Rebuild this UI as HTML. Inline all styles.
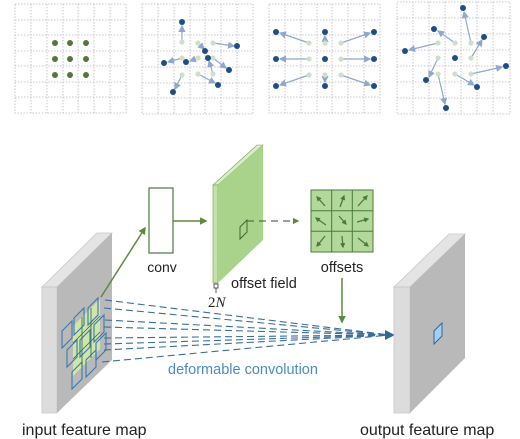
<!DOCTYPE html>
<html><head><meta charset="utf-8"><style>
html,body{margin:0;padding:0;background:#fff;}
svg{display:block;}
text{font-family:"Liberation Sans",sans-serif;}
</style></head><body>
<svg width="520" height="439" viewBox="0 0 520 439" xmlns="http://www.w3.org/2000/svg">
<defs>
<marker id="ab" markerWidth="6" markerHeight="6" refX="5" refY="3" orient="auto" markerUnits="strokeWidth"><path d="M0,0 L6,3 L0,6 z" fill="#8fa8cc"/></marker>
<marker id="ag" markerWidth="5" markerHeight="5" refX="4" refY="2.5" orient="auto" markerUnits="strokeWidth"><path d="M0,0 L5,2.5 L0,5 z" fill="#5a8a3c"/></marker>
<marker id="ao" markerWidth="4" markerHeight="4" refX="3" refY="2" orient="auto" markerUnits="strokeWidth"><path d="M0,0 L4,2 L0,4 z" fill="#4a7a3a"/></marker>
</defs>
<g fill="none" stroke="#b8b8c0" stroke-width="0.8" stroke-dasharray="1.5 1.5">
<rect x="15" y="4" width="111" height="109"/>
<path d="M31 4V113M47 4V113M63 4V113M78 4V113M94 4V113M110 4V113M15 20H126M15 35H126M15 51H126M15 66H126M15 82H126M15 97H126"/>
<rect x="142" y="4" width="111" height="110"/>
<path d="M158 4V114M174 4V114M190 4V114M205 4V114M221 4V114M237 4V114M142 20H253M142 35H253M142 51H253M142 67H253M142 83H253M142 98H253"/>
<rect x="269" y="4" width="111" height="109"/>
<path d="M285 4V113M301 4V113M317 4V113M332 4V113M348 4V113M364 4V113M269 20H380M269 35H380M269 51H380M269 66H380M269 82H380M269 97H380"/>
<rect x="397" y="2" width="113" height="112"/>
<path d="M413 2V114M429 2V114M445 2V114M461 2V114M477 2V114M493 2V114M397 18H510M397 34H510M397 50H510M397 66H510M397 82H510M397 98H510"/>
</g>
<g fill="#4f7a3a">
<circle cx="55" cy="43" r="3"/><circle cx="70" cy="43" r="3"/><circle cx="86" cy="43" r="3"/>
<circle cx="55" cy="59" r="3"/><circle cx="70" cy="59" r="3"/><circle cx="86" cy="59" r="3"/>
<circle cx="55" cy="75" r="3"/><circle cx="70" cy="75" r="3"/><circle cx="86" cy="75" r="3"/>
</g>
<g stroke="#8fa8cc" stroke-width="1.2" marker-end="url(#ab)">
<line x1="182" y1="42" x2="182" y2="26"/><line x1="198" y1="43" x2="204" y2="49"/><line x1="213" y1="43" x2="234" y2="46"/>
<line x1="182" y1="58" x2="168" y2="62"/><line x1="198" y1="58" x2="190" y2="61"/><line x1="213" y1="58" x2="226" y2="68"/>
<line x1="182" y1="75" x2="175" y2="89"/><line x1="198" y1="74" x2="215" y2="83"/><line x1="213" y1="74" x2="209" y2="61"/>
</g>
<g fill="#cfe0c6"><circle cx="182" cy="42" r="2.6"/><circle cx="198" cy="43" r="2.6"/><circle cx="213" cy="43" r="2.6"/><circle cx="182" cy="58" r="2.6"/><circle cx="198" cy="58" r="2.6"/><circle cx="213" cy="58" r="2.6"/><circle cx="182" cy="75" r="2.6"/><circle cx="198" cy="74" r="2.6"/><circle cx="213" cy="74" r="2.6"/></g>
<g fill="#1f4e85"><circle cx="182" cy="22" r="3"/><circle cx="237" cy="46" r="3"/><circle cx="164" cy="63" r="3"/><circle cx="186" cy="62" r="3"/><circle cx="205" cy="51" r="3"/><circle cx="208" cy="58" r="3"/><circle cx="229" cy="70" r="3"/><circle cx="218" cy="85" r="3"/><circle cx="173" cy="92" r="3"/></g>
<g stroke="#8fa8cc" stroke-width="1.2" marker-end="url(#ab)">
<line x1="309" y1="43" x2="280" y2="33"/><line x1="325" y1="43" x2="325" y2="36"/><line x1="341" y1="43" x2="370" y2="33"/>
<line x1="309" y1="59" x2="280" y2="59"/><line x1="341" y1="59" x2="370" y2="59"/>
<line x1="309" y1="75" x2="280" y2="85"/><line x1="325" y1="75" x2="325" y2="82"/><line x1="341" y1="75" x2="370" y2="85"/>
</g>
<g fill="#cfe0c6"><circle cx="309" cy="43" r="2.6"/><circle cx="325" cy="43" r="2.6"/><circle cx="341" cy="43" r="2.6"/><circle cx="309" cy="59" r="2.6"/><circle cx="341" cy="59" r="2.6"/><circle cx="309" cy="75" r="2.6"/><circle cx="325" cy="75" r="2.6"/><circle cx="341" cy="75" r="2.6"/></g>
<g fill="#1f4e85"><circle cx="276" cy="32" r="3"/><circle cx="325" cy="32" r="3"/><circle cx="374" cy="32" r="3"/><circle cx="276" cy="59" r="3"/><circle cx="325" cy="59" r="3"/><circle cx="374" cy="59" r="3"/><circle cx="276" cy="86" r="3"/><circle cx="325" cy="86" r="3"/><circle cx="374" cy="86" r="3"/></g>
<g stroke="#8fa8cc" stroke-width="1.2" marker-end="url(#ab)">
<line x1="438" y1="43" x2="409" y2="50"/><line x1="455" y1="43" x2="438" y2="31"/><line x1="471" y1="43" x2="464" y2="12"/>
<line x1="438" y1="58" x2="429" y2="77"/><line x1="471" y1="58" x2="482" y2="40"/>
<line x1="438" y1="74" x2="445" y2="104"/><line x1="455" y1="74" x2="474" y2="85"/><line x1="471" y1="74" x2="502" y2="67"/>
</g>
<g fill="#cfe0c6"><circle cx="438" cy="43" r="2.6"/><circle cx="455" cy="43" r="2.6"/><circle cx="471" cy="43" r="2.6"/><circle cx="438" cy="58" r="2.6"/><circle cx="471" cy="58" r="2.6"/><circle cx="438" cy="74" r="2.6"/><circle cx="455" cy="74" r="2.6"/><circle cx="471" cy="74" r="2.6"/></g>
<g fill="#1f4e85"><circle cx="463" cy="8" r="3"/><circle cx="434" cy="29" r="3"/><circle cx="484" cy="37" r="3"/><circle cx="405" cy="51" r="3"/><circle cx="455" cy="58" r="3"/><circle cx="506" cy="66" r="3"/><circle cx="426" cy="80" r="3"/><circle cx="477" cy="87" r="3"/><circle cx="446" cy="108" r="3"/></g>

<polygon points="42,287 97,233 112,233 57,287" fill="#e4e4e4" stroke="#c8c8c8" stroke-width="0.8"/>
<rect x="42" y="287" width="15" height="126" fill="#dcdcdc" stroke="#c8c8c8" stroke-width="0.8"/>
<polygon points="57,287 112,233 112,360 57,413" fill="#b9b9b9"/>
<polygon points="73,326 100,299 100,349 73,376" fill="#cfe6a8"/>
<g fill="none" stroke="#3a7ab0" stroke-width="1.1">
<polygon points="62,331 72,321 72,338 62,348"/><polygon points="67,350 77,340 77,357 67,367"/><polygon points="72,372 82,362 82,379 72,389"/>
<polygon points="74,318 84,308 84,325 74,335"/><polygon points="80,340 90,330 90,347 80,357"/><polygon points="86,360 96,350 96,367 86,377"/>
<polygon points="88,308 98,298 98,315 88,325"/><polygon points="94,325 104,315 104,332 94,342"/><polygon points="96,343 106,333 106,350 96,360"/>
</g>
<g stroke="#2f6a4a" stroke-width="0.8"><line x1="82" y1="317" x2="82" y2="367"/><line x1="91" y1="308" x2="91" y2="358"/><line x1="73" y1="343" x2="100" y2="316"/><line x1="73" y1="359" x2="100" y2="332"/></g>
<g stroke="#3a6e9a" stroke-width="1.1" stroke-dasharray="7 4" fill="none">
<line x1="105" y1="300" x2="390" y2="335"/><line x1="104" y1="308" x2="390" y2="335"/>
<line x1="105" y1="320" x2="390" y2="335"/><line x1="104" y1="327" x2="390" y2="335"/>
<line x1="104" y1="338" x2="390" y2="335"/><line x1="104" y1="344" x2="390" y2="335"/>
<line x1="104" y1="350" x2="390" y2="335"/><line x1="102" y1="362" x2="390" y2="335"/>
</g>
<polygon points="385,330 395,335 385,340" fill="#2f6a9a"/>
<text x="168" y="374" font-size="14.5" fill="#4a8cc0">deformable convolution</text>

<rect x="149" y="188" width="24" height="65" fill="#fff" stroke="#4a7a3a" stroke-width="1.2"/>
<line x1="101" y1="297" x2="145" y2="228" stroke="#5a8a3c" stroke-width="1.5" marker-end="url(#ag)"/>
<line x1="173" y1="221" x2="206" y2="221" stroke="#5a8a3c" stroke-width="1.5" marker-end="url(#ag)"/>
<text x="162" y="272" font-size="14" fill="#222" text-anchor="middle">conv</text>

<polygon points="213,185 257,145 263,145 218,185" fill="#d9eec4" stroke="#7aa060" stroke-width="0.6"/>
<rect x="213" y="185" width="5" height="98" fill="#c5e0a8" stroke="#7aa060" stroke-width="0.6"/>
<polygon points="218,185 263,145 263,240 218,283" fill="#a9d28b"/>
<polygon points="240,227 247,220 247,232 240,239" fill="none" stroke="#3f6a2e" stroke-width="1"/>
<line x1="247" y1="221" x2="298" y2="221" stroke="#4a7a3a" stroke-width="1.3" stroke-dasharray="7 5" marker-end="url(#ag)"/>
<rect x="214" y="284" width="4" height="4" fill="#fff" stroke="#333" stroke-width="0.8"/>
<line x1="216" y1="288" x2="216" y2="293" stroke="#333" stroke-width="0.8"/>
<text x="208" y="307" font-size="15" fill="#222" style="font-family:'Liberation Serif',serif">2<tspan font-style="italic">N</tspan></text>
<text x="231" y="288" font-size="14.5" fill="#222">offset field</text>

<rect x="311" y="190" width="62" height="62" fill="#b2d99a" stroke="#4a7a3a" stroke-width="1"/>
<path d="M331.7 190V252M352.3 190V252M311 210.7H373M311 231.3H373" stroke="#4a7a3a" stroke-width="1"/>
<g stroke="#4a7a3a" stroke-width="1.3" marker-end="url(#ao)">
<line x1="325" y1="206" x2="317" y2="197"/><line x1="340" y1="207" x2="344" y2="196"/><line x1="358" y1="206" x2="367" y2="196"/>
<line x1="326" y1="225" x2="316" y2="218"/><line x1="339" y1="216" x2="346" y2="224"/><line x1="357" y1="222" x2="368" y2="219"/>
<line x1="325" y1="236" x2="317" y2="246"/><line x1="342" y1="236" x2="343" y2="247"/><line x1="358" y1="238" x2="368" y2="246"/>
</g>
<text x="342" y="272" font-size="14.5" fill="#222" text-anchor="middle">offsets</text>
<line x1="342" y1="278" x2="342" y2="322" stroke="#5a8a3c" stroke-width="1.5" marker-end="url(#ag)"/>

<polygon points="394,287 449,234 465,234 410,287" fill="#e4e4e4" stroke="#c8c8c8" stroke-width="0.8"/>
<rect x="394" y="287" width="16" height="126" fill="#dcdcdc" stroke="#c8c8c8" stroke-width="0.8"/>
<polygon points="410,287 465,234 465,358 410,413" fill="#b9b9b9"/>
<polygon points="434,331 442,323 442,336 434,344" fill="#a8cdf0" stroke="#2f6a9a" stroke-width="1"/>

<text x="22" y="435" font-size="16" fill="#222">input feature map</text>
<text x="360" y="435" font-size="16" fill="#222">output feature map</text>
</svg>
</body></html>
